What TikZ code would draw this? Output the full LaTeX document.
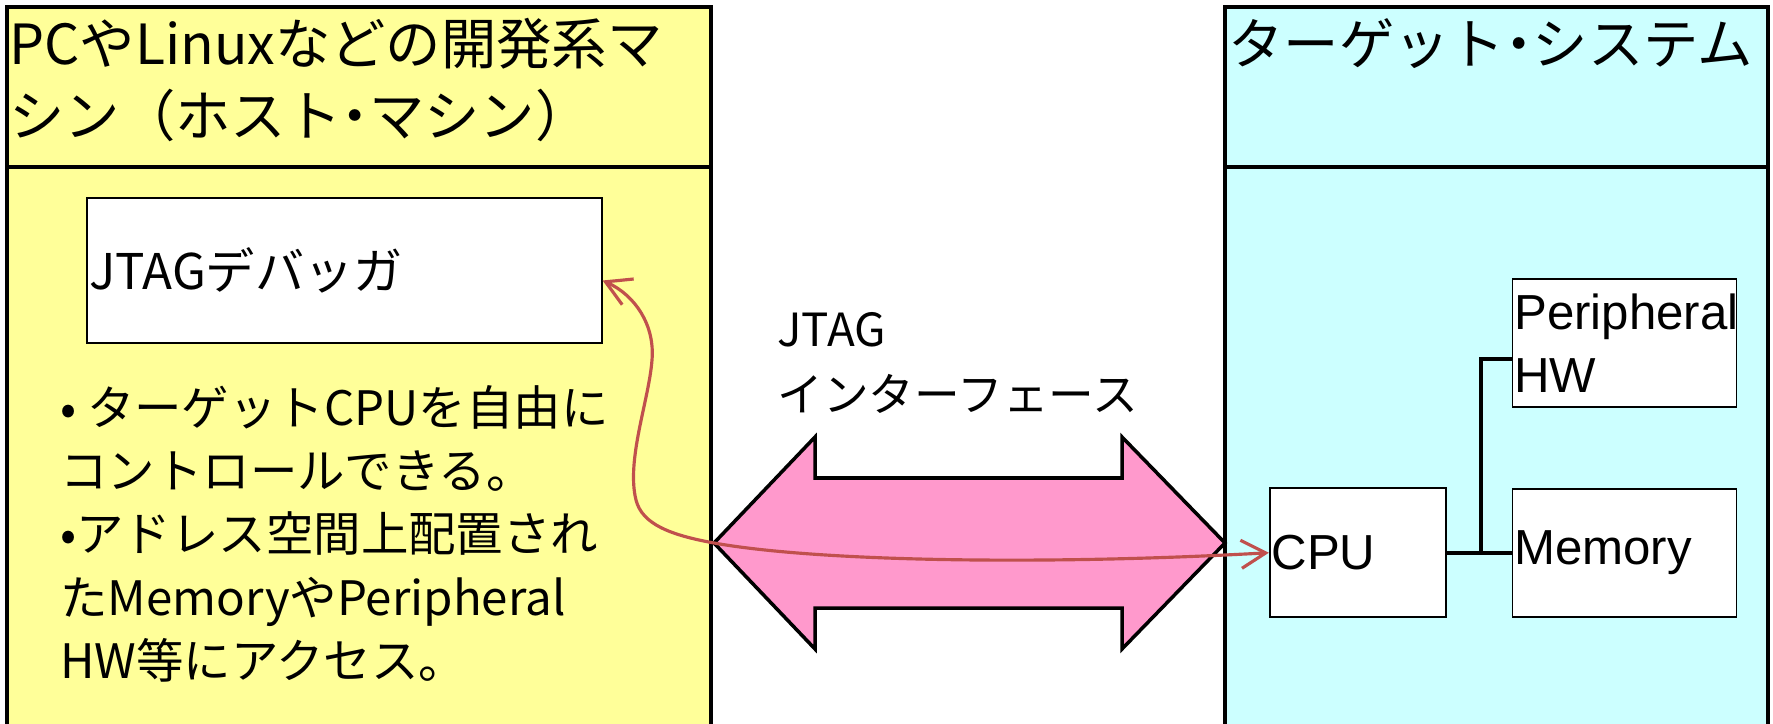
\documentclass[tikz,border=0pt]{standalone}
\usepackage{fontspec}
\setmainfont{Noto Sans CJK JP}
\newfontfamily\boxfont{Liberation Sans}
\usepackage{tikz}
\usetikzlibrary{arrows.meta,positioning}
\definecolor{hostyellow}{HTML}{FFFF99}
\definecolor{targetcyan}{HTML}{CCFFFF}
\definecolor{ifpink}{HTML}{FF99CC}
\definecolor{tracered}{HTML}{C0504D}
\newcommand{\middot}{\makebox[0.5em][c]{・}}

\begin{document}
\begin{tikzpicture}[x=0.02cm,y=-0.02cm,
  panel/.style={draw,line width=2pt},
  box node/.style={draw,fill=white,line width=1pt,inner xsep=1pt,align=left,
    font=\boxfont\fontsize{28pt}{36pt}\selectfont},
  title node/.style={anchor=north west,inner sep=0pt,align=left,
    font=\fontsize{31.5pt}{41pt}\selectfont},
  text node/.style={anchor=north west,inner sep=0pt,align=left,
    font=\fontsize{27pt}{36pt}\selectfont}]

  \useasboundingbox (0,0) rectangle (1773,723);

  \draw[panel,fill=hostyellow] (7,7) rectangle (711,740);
  \draw[panel] (7,167) -- (711,167);
  \draw[panel,fill=targetcyan] (1225,7) rectangle (1768,740);
  \draw[panel] (1225,167) -- (1768,167);

  \node[title node] (host) at (9,18) {PCやLinuxなどの開発系マ\\シン（ホスト\middot マシン）};
  \node[title node] (target) at (1228,18) {ターゲット\middot システム};

  \node[box node,font=\fontsize{28pt}{36pt}\selectfont,text width=10.22cm,
    minimum height=2.9cm] (dbg) at (344.5,270.5) {JTAGデバッガ};
  \node[text node] (ctrl) at (60,385) {• ターゲットCPUを自由に\\コントロールできる。\\
    •アドレス空間上配置され\\たMemoryやPeripheral\\HW等にアクセス。};

  \node[text node,font=\fontsize{26pt}{37pt}\selectfont] (jtag) at (777,312) {JTAG\\インターフェース};
  \draw[line width=2pt,fill=ifpink,line join=miter] (714,543) -- (815,437) -- (815,478)
    -- (1122,478) -- (1122,437) -- (1225,543) -- (1122,649) -- (1122,608)
    -- (815,608) -- (815,649) -- cycle;

  \node[box node,text width=4.41cm,minimum height=2.56cm] (per) at (1624.5,343) {Peripheral\\HW};
  \node[box node,text width=4.41cm,minimum height=2.56cm,below=1.6cm of per] (mem) {Memory};
  \node[box node,text width=3.45cm,minimum height=2.58cm,left=1.3cm of mem] (cpu) {CPU};

  \coordinate (bus) at (1481,551);
  \path[draw,line width=2.2pt] (cpu) edge (mem);
  \draw[line width=2.2pt] (bus) |- ([yshift=-0.32cm]per.west);

  \draw[tracered,line width=1.8pt,
    {Straight Barb[length=14pt,width=16pt]}-{Straight Barb[length=14pt,width=16pt]}]
    ([yshift=-0.2cm]dbg.east) .. controls (635,295) and (655,325) .. (652,360)
    .. controls (649,400) and (626,460) .. (636,500)
    .. controls (642,524) and (670,535) .. (714,543)
    .. controls (820,562) and (1050,565) .. (cpu.west);
\end{tikzpicture}
\end{document}
